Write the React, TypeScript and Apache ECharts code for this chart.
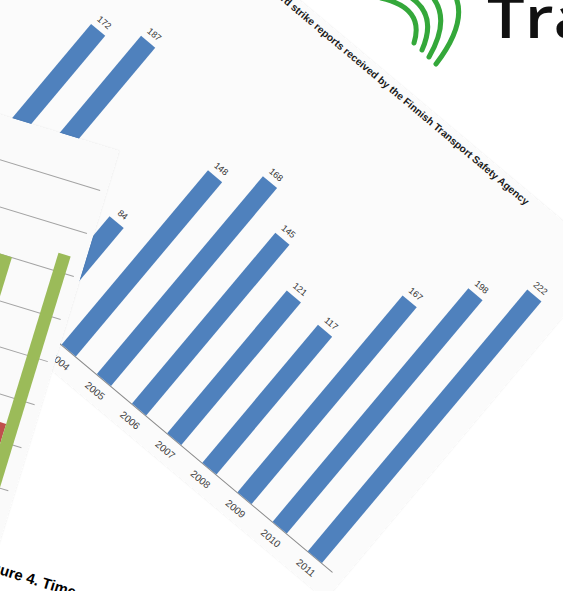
import React, { useEffect, useRef } from "react";
import * as echarts from "echarts";

// ---- Page A: bird strike reports (rotated document) ----
const yearsA = ["2000", "2001", "2002", "2003", "2004", "2005", "2006", "2007", "2008", "2009", "2010", "2011"];
const reportsA: (number | null)[] = [172, 187, null, 84, 148, 168, 145, 121, 117, 167, 198, 222];
const titleA = "Number of bird strike reports received by the Finnish Transport Safety Agency";

// ---- Page B: overlapping chart (only its right end is visible) ----
const groupsB = ["Group 1", "Group 2"];
const blueB: (number | null)[] = [null, null];
const redB: (number | null)[] = [null, 12];
const greenB: (number | null)[] = [30, 32];
const captionB = "Figure 4. Time";

// ---- Logo ----
const logoText = "Tra";

type Props = { option: any; style: React.CSSProperties };

function EChart({ option, style }: Props) {
  const ref = useRef<HTMLDivElement>(null);
  useEffect(() => {
    if (!ref.current) return;
    const chart = echarts.init(ref.current, null, { renderer: "svg" });
    chart.setOption(option);
    return () => chart.dispose();
  }, [option]);
  return <div ref={ref} style={style} />;
}

const deg = Math.PI / 180;

// Base layer: logo + caption
const baseOption = {
  animation: false,
  backgroundColor: "#ffffff",
  graphic: [
    ...[
      [381, -2, 425, 8, 414, 43],
      [405, -6, 439, 12, 422, 50],
      [428, -8, 453, 16, 429, 57],
      [452, -10, 471, 18, 436, 64],
    ].map((p) => ({
      type: "bezierCurve",
      shape: { x1: p[0], y1: p[1], cpx1: p[2], cpy1: p[3], x2: p[4], y2: p[5] },
      style: { stroke: "#34a83a", lineWidth: 5, fill: null, lineCap: "round" },
    })),
    {
      type: "text",
      x: 487,
      y: 44,
      scaleX: 1.15,
      style: {
        text: logoText,
        fill: "#111111",
        fontSize: 58,
        fontWeight: 600,
        fontFamily: "Open Sans",
        textAlign: "left",
        textVerticalAlign: "bottom",
      },
    },
    {
      type: "text",
      x: -21.0,
      y: 562.5,
      rotation: -17 * deg,
      style: {
        text: captionB,
        fill: "#000000",
        fontSize: 15,
        fontWeight: "bold",
        fontFamily: "Liberation Sans",
        textAlign: "left",
        textVerticalAlign: "middle",
      },
    },
  ],
};

const optionA = {
  animation: false,
  backgroundColor: "#fbfbfb",
  title: {
    text: titleA,
    right: 100,
    top: 4,
    padding: 0,
    textStyle: { fontSize: 10.3, fontWeight: "bold", color: "#1a1a1a", fontFamily: "Liberation Sans" },
  },
  grid: { left: 123.45, right: 12.75, top: 32.5, bottom: 26 },
  xAxis: {
    type: "category",
    data: yearsA,
    axisLine: { lineStyle: { color: "#8c8c8c", width: 1 } },
    axisTick: { show: false },
    axisLabel: { fontSize: 10, color: "#404040", margin: 9, fontFamily: "Liberation Sans" },
  },
  yAxis: { type: "value", min: 0, max: 250, show: false, splitLine: { show: false } },
  series: [
    {
      type: "bar",
      data: reportsA,
      barWidth: 18.5,
      itemStyle: { color: "#4f81bd" },
      label: {
        show: true,
        position: "top",
        distance: 5,
        fontSize: 9,
        color: "#333333",
        fontFamily: "Liberation Sans",
      },
    },
  ],
};

const optionB = {
  animation: false,
  backgroundColor: "#fafafa",
  grid: { left: 308.4, right: 6.8, top: 43.6, bottom: 14.4 },
  xAxis: {
    type: "category",
    data: groupsB,
    axisLine: { lineStyle: { color: "#8c8c8c" } },
    axisTick: { show: false },
    axisLabel: { show: false },
  },
  yAxis: {
    type: "value",
    min: 0,
    max: 40,
    interval: 5,
    axisLine: { show: false },
    axisTick: { show: false },
    axisLabel: { show: false },
    splitLine: { lineStyle: { color: "#a3a3a3", width: 1 } },
  },
  series: [
    { type: "bar", data: blueB, barWidth: 12.7, barGap: "0%", itemStyle: { color: "#4f81bd" } },
    { type: "bar", data: redB, barWidth: 12.7, barGap: "0%", itemStyle: { color: "#c0504d" } },
    { type: "bar", data: greenB, barWidth: 12.7, barGap: "0%", itemStyle: { color: "#9bbb59" } },
  ],
};

export default function App() {
  return (
    <div
      style={{
        position: "fixed",
        left: 0,
        top: 0,
        width: 563,
        height: 591,
        overflow: "hidden",
        background: "#ffffff",
      }}
    >
      <EChart option={baseOption} style={{ position: "absolute", left: 0, top: 0, width: 563, height: 591 }} />
      <EChart
        option={optionA}
        style={{
          position: "absolute",
          left: 83.6,
          top: -180.7,
          width: 687,
          height: 443,
          transformOrigin: "0 0",
          transform: "rotate(40deg)",
          boxShadow: "0 0 2px rgba(0,0,0,0.08)",
        }}
      />
      <EChart
        option={optionB}
        style={{
          position: "absolute",
          left: -288.9,
          top: 25.5,
          width: 426.8,
          height: 415.6,
          transformOrigin: "0 0",
          transform: "rotate(17deg)",
          boxShadow: "0 0 2px rgba(0,0,0,0.08)",
        }}
      />
    </div>
  );
}
